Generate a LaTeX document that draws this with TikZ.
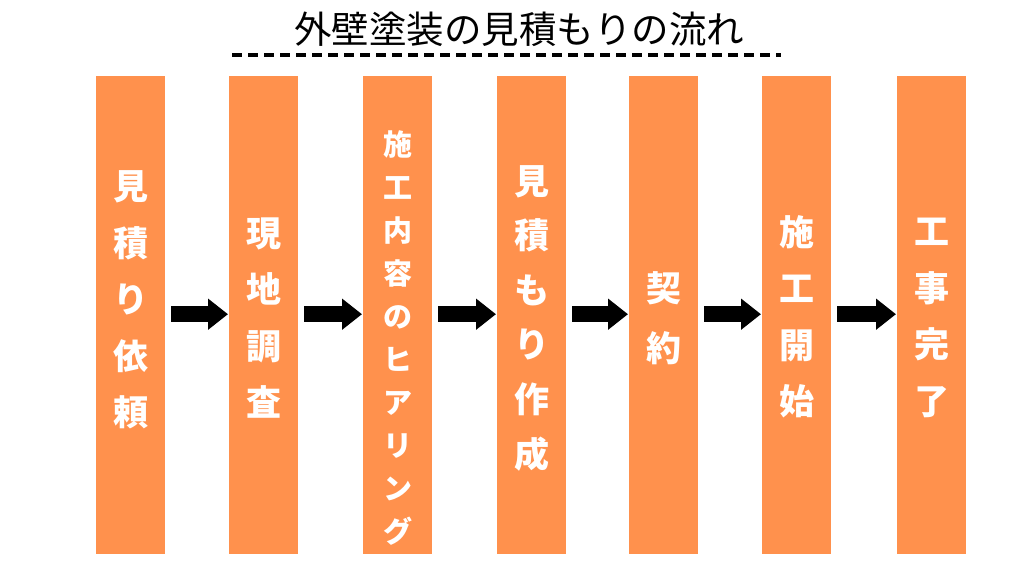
\documentclass[tikz,border=0pt]{standalone}
\usepackage{fontspec}
\newfontfamily\jp{Noto Sans CJK JP}
\usetikzlibrary{arrows.meta}
\definecolor{barorange}{RGB}{255,145,77}
\tikzset{
  bar/.style={fill=barorange, draw=none, minimum width=69pt, minimum height=478pt, inner sep=0pt, anchor=north west},
  bartext/.style={text=white, font=\jp\bfseries\fontsize{35}{56.5}\selectfont, align=center, inner sep=0pt},
  smalltext/.style={text=white, font=\jp\bfseries\fontsize{29}{43}\selectfont, align=center, inner sep=0pt},
  flow/.style={line width=16pt, -{Triangle[length=20pt,width=30pt]}, shorten <=6pt, shorten >=1pt},
  titletext/.style={font=\jp\fontsize{37.5}{40}\selectfont, inner sep=0pt}
}
\begin{document}
\begin{tikzpicture}[x=1pt,y=-1pt]
\useasboundingbox[fill=white] (0,0) rectangle (1024,576);
\node[titletext] (title) at (519,29) {外壁塗装の見積もりの流れ};
\coordinate (dl) at (232,55);
\coordinate (dr) at (781,55);
\draw[line width=3.5pt, dash pattern=on 10pt off 6pt] (dl) -- (dr);

\node[bar] (b1) at (96,76) {};
\node[bar] (b2) at (229,76) {};
\node[bar] (b3) at (363,76) {};
\node[bar] (b4) at (497,76) {};
\node[bar] (b5) at (629,76) {};
\node[bar] (b6) at (762,76) {};
\node[bar] (b7) at (897,76) {};

\node[bartext] (t1) at (130.5,300) {見\\積\\り\\依\\頼};
\node[bartext] (t2) at (263.5,318) {現\\地\\調\\査};
\node[smalltext] (t3) at (397.5,338) {施\\工\\内\\容\\の\\ヒ\\ア\\リ\\ン\\グ};
\node[bartext, font=\jp\bfseries\fontsize{35}{54.6}\selectfont] (t4) at (531.5,318) {見\\積\\も\\り\\作\\成};
\node[bartext, font=\jp\bfseries\fontsize{35}{60}\selectfont] (t5) at (663.5,318) {契\\約};
\node[bartext] (t6) at (796.5,317) {施\\工\\開\\始};
\node[bartext] (t7) at (931.5,318) {工\\事\\完\\了};

\draw[flow] ([yshift=1pt]b1.east) -- ([yshift=1pt]b2.west);
\draw[flow] ([yshift=1pt]b2.east) -- ([yshift=1pt]b3.west);
\draw[flow] ([yshift=1pt]b3.east) -- ([yshift=1pt]b4.west);
\draw[flow] ([yshift=1pt]b4.east) -- ([yshift=1pt]b5.west);
\draw[flow] ([yshift=1pt]b5.east) -- ([yshift=1pt]b6.west);
\draw[flow] ([yshift=1pt]b6.east) -- ([yshift=1pt]b7.west);
\end{tikzpicture}
\end{document}
